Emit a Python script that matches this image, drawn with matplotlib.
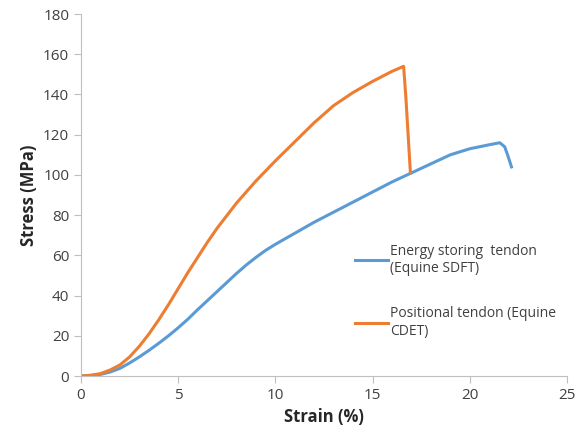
import matplotlib
matplotlib.use("Agg")
import matplotlib.pyplot as plt

# data
sdft_strain = [0, 0.5, 1, 1.5, 2, 2.5, 3, 3.5, 4, 4.5, 5, 5.5, 6, 7, 8, 8.5,
               9, 9.5, 10, 11, 12, 13, 14, 15, 16, 17, 18, 19, 20, 21, 21.55,
               21.8, 21.95, 22.15]
sdft_stress = [0, 0.2, 0.8, 2, 3.8, 6.5, 9.5, 12.8, 16.3, 20, 24, 28.3, 33,
               42, 51, 55.2, 59, 62.5, 65.5, 71, 76.5, 81.5, 86.5, 91.5, 96.5,
               101, 105.5, 110, 113, 115, 116, 114, 110, 104]

cdet_strain = [0, 0.5, 1, 1.5, 2, 2.5, 3, 3.5, 4, 4.5, 5, 5.5, 6, 6.5, 7, 8,
               9, 10, 11, 12, 13, 14, 15, 16, 16.6, 16.72, 16.95]
cdet_stress = [0, 0.4, 1.2, 3, 5.5, 9.5, 14.8, 21, 28, 35.5, 43.5, 51.5, 59,
               66.5, 73.5, 86, 97, 107, 116.5, 126, 134.5, 141, 146.5, 151.5,
               154, 138, 101]

labels = ["Energy storing  tendon\n(Equine SDFT)",
          "Positional tendon (Equine\nCDET)"]

plt.rcParams["font.family"] = ["Open Sans", "DejaVu Sans"]

fig = plt.figure(figsize=(5.79, 4.34), dpi=100)
ax = fig.add_axes([0.14, 0.1336, 0.839, 0.834])

ax.plot(sdft_strain, sdft_stress, color="#5B9BD5", lw=2.2, label=labels[0])
ax.plot(cdet_strain, cdet_stress, color="#ED7D31", lw=2.2, label=labels[1])

ax.set_xlim(0, 25)
ax.set_ylim(0, 180)
ax.set_xticks(range(0, 26, 5))
ax.set_yticks(range(0, 181, 20))

ax.spines["top"].set_visible(False)
ax.spines["right"].set_visible(False)
for s in ["left", "bottom"]:
    ax.spines[s].set_color("#BFBFBF")
ax.tick_params(colors="#BFBFBF", labelcolor="#404040", labelsize=11, length=5)

ax.set_xlabel("Strain (%)", fontsize=12, fontweight="bold", color="#262626")
ax.set_ylabel("Stress (MPa)", fontsize=12, fontweight="bold", color="#262626")

ax.legend(loc="upper left", bbox_to_anchor=(0.538, 0.40), frameon=False,
          fontsize=10, labelspacing=2.2, handlelength=2.4, handletextpad=0.15,
          labelcolor="#404040")

fig.savefig("out.png", dpi=100)
